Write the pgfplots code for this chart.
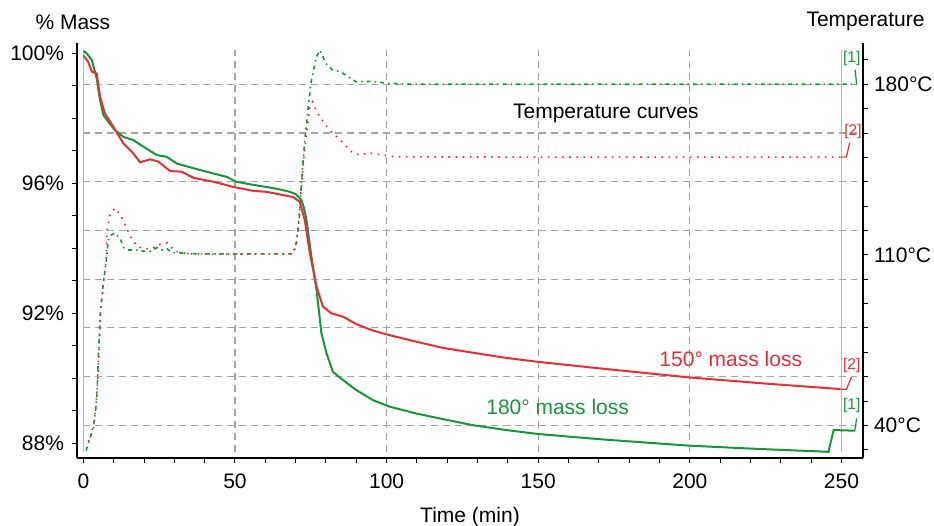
\documentclass[border=0pt]{standalone}
\usepackage{fontspec}
\setmainfont{Liberation Sans}
\usepackage{pgfplots}
\pgfplotsset{compat=1.18}
\definecolor{cgreen}{RGB}{22,150,60}
\definecolor{cred}{RGB}{232,45,55}
\definecolor{cgrid}{RGB}{165,165,165}
\definecolor{cvline}{RGB}{185,185,185}
\newcommand{\bigf}{\fontsize{21}{24}\selectfont}
\newcommand{\smallf}{\fontsize{15.5}{18}\selectfont}

\begin{document}
\begin{tikzpicture}[x=1pt,y=1pt]
\pgfplotsset{
  base/.style={
    at={(77pt,67pt)}, anchor=south west,
    scale only axis, width=786pt, height=415pt,
    xmin=-2.1, xmax=257.1,
    /pgf/number format/assume math mode=true,
    tick label style={font=\bigf},
    tick align=outside,
    major tick length=4.5pt, minor tick length=4.5pt,
    every tick/.style={black, line width=1pt},
    axis line style={black, line width=1.3pt},
  }
}
% ---------------- temperature axis (right) ----------------
\begin{axis}[base,
  ymin=26.63, ymax=196.94,
  axis x line=none, axis y line*=right,
  ytick={40,110,180}, yticklabels={40°C,110°C,180°C},
  minor ytick={30,50,60,70,80,90,100,120,130,140,150,160,170,190},
  yticklabel style={anchor=west, xshift=3pt},
]
\pgfplotsinvokeforeach{40,60,80,100,120,140,160,180}{
  \draw[cgrid, line width=1.1pt, dash pattern=on 7pt off 5pt] (axis cs:0,#1) -- (axis cs:255,#1);
}
\pgfplotsinvokeforeach{50,100,150,200}{
  \draw[cgrid, line width=1.1pt, dash pattern=on 7pt off 5pt] (axis cs:#1,29.2) -- (axis cs:#1,194.1);
}
\draw[cvline, line width=1.2pt] (axis cs:0,29.2) -- (axis cs:0,194.1);
\draw[cvline, line width=1.2pt] (axis cs:250,29.2) -- (axis cs:250,194.1);

% green temperature (180 run)
\addplot[cgreen, line width=1.6pt, dash pattern=on 4pt off 4pt on 1.6pt off 4pt] coordinates {
(0.9,29.7) (2.5,36) (3.4,40.4) (4.1,47) (4.5,53.5) (5.0,70) (5.6,86) (6.6,98.5)
(7.6,108) (8.2,116) (9,118) (10.5,119) (12.2,116.5) (13.2,113) (15,112) (17.1,112)
(20,111.5) (22.6,111.5) (24.2,113) (26,112) (27.6,112.5) (29,111) (31.9,110.8)
(35,110.5) (40,110.4) (50,110.4) (60,110.4) (68,110.4) (69,110.6) (70.3,115)
(71.2,125) (71.9,139.5) (73,157) (74,169) (75.2,181.6) (76.8,191) (78,194)
(80,188.5) (82,186) (85,185) (88,182.5) (90,181) (95.4,181.2) (101,180.3)
(110,180) (150,180) (200,180) (255,180)
};
% red temperature (150 run)
\addplot[cred, line width=1.6pt, dash pattern=on 1.6pt off 5.5pt] coordinates {
(1.65,33.4) (3.3,38.2) (4.1,47.2) (4.6,56.2) (5.2,71.2) (5.7,86.2) (6.6,98.5)
(7.5,108) (7.8,120) (8.9,127) (10.5,129.2) (12.2,126.4) (13.5,123) (15.5,117.5)
(17.8,113.4) (20,112.5) (22.6,112.5) (24.2,114) (27.6,115) (30,111.7) (34.2,110.5)
(40,110.3) (50,110.3) (60,110.3) (69,110.3) (70,113) (70.7,120) (71.4,129.6)
(72.4,146) (73.6,160) (74.7,170.6) (75.5,172.8) (76.5,170) (78,166.5) (81.3,161)
(85,156.8) (89,151.6) (91.7,151) (93.8,151.9) (97,151.3) (103.2,150.2) (150,150.1)
(200,150.1) (249.5,150.1)
};
% leaders for temperature ends
\addplot[cred, line width=1.2pt] coordinates {(249.5,150.1) (251.6,150.1) (252.7,156)};
\addplot[cgreen, line width=1.2pt] coordinates {(255,180) (254.5,186)};
\node[cgreen, font=\smallf] at (axis cs:253.4,190.5) {[1]};
\node[cred, font=\smallf] at (axis cs:253.8,160.5) {[2]};
\end{axis}

% ---------------- mass axis (left) ----------------
\begin{axis}[base,
  ymin=87.54, ymax=100.31,
  axis x line*=bottom, axis y line*=left,
  xtick={0,50,...,250}, minor xtick={10,20,30,40,60,70,80,90,110,120,130,140,160,170,180,190,210,220,230,240},
  ytick={88,92,96,100}, yticklabels={88\%,92\%,96\%,100\%},
  minor ytick={89,90,91,93,94,95,97,98,99},
  yticklabel style={xshift=-5pt},
  xticklabel style={yshift=-8pt},
]
% green mass (180 run)
\addplot[cgreen, line width=2pt] coordinates {
(0,100.07) (1.2,99.98) (2.8,99.78) (4.4,99.22) (5.5,98.55) (6.6,98.09) (8.2,97.89)
(10.4,97.63) (13.2,97.42) (16.5,97.32) (19.8,97.12) (24.2,96.86) (27.5,96.81)
(30.8,96.6) (38.5,96.4) (47.3,96.19) (50.5,96.04) (55,95.96) (60.4,95.88)
(65,95.8) (68.1,95.73) (70,95.66) (71.9,95.48) (72.7,95.25) (73.6,94.86)
(75.2,93.73) (76.9,92.71) (78.5,91.38) (80.2,90.76) (82.3,90.19) (85.6,89.94)
(90,89.63) (95.5,89.32) (101,89.12) (109.7,88.91) (117.4,88.76) (128.4,88.55)
(139.4,88.40) (149.8,88.28) (170,88.12) (199.7,87.92) (220,87.83) (245.7,87.73)
(247.4,88.40) (254.4,88.38)
};
% red mass (150 run)
\addplot[cred, line width=2pt] coordinates {
(0,99.93) (1.6,99.73) (2.8,99.43) (4.4,99.37) (5.5,98.66) (7.1,98.14) (9.9,97.73)
(13.2,97.22) (16.5,96.91) (18.7,96.64) (22,96.73) (24.7,96.66) (28.6,96.37)
(32.4,96.35) (36.3,96.16) (42.9,96.04) (49.5,95.88) (56,95.76) (60.4,95.73)
(69.2,95.57) (71.4,95.42) (73,94.86) (74.7,93.84) (76.9,92.81) (79,92.2)
(81.8,91.99) (85.6,91.89) (90,91.66) (95.5,91.46) (101,91.32) (109.7,91.12)
(118.5,90.93) (128.4,90.78) (139.4,90.62) (149.8,90.50) (170,90.3) (199.7,90.02)
(225,89.83) (249.7,89.66)
};
% leaders for mass ends
\addplot[cred, line width=1.2pt] coordinates {(249.7,89.66) (251.6,89.65) (253.3,90.03)};
\addplot[cgreen, line width=1.2pt] coordinates {(254.4,88.38) (255,88.76)};
\node[cred, font=\smallf] at (axis cs:253.4,90.4) {[2]};
\node[cgreen, font=\smallf] at (axis cs:253.4,89.17) {[1]};
% annotations
\node[font=\bigf] at (axis cs:172.3,98.15) {Temperature curves};
\node[cred, font=\bigf] at (axis cs:213.5,90.58) {150° mass loss};
\node[cgreen, font=\bigf] at (axis cs:156.4,89.11) {180° mass loss};
\end{axis}

\node[font=\bigf, anchor=base west] at (32,495) {\% Mass};
\node[font=\bigf, anchor=base west] at (803,498) {Temperature};
\node[font=\bigf, anchor=base] at (470,2.5) {Time (min)};

\pgfresetboundingbox
\path[use as bounding box] (0,0) rectangle (934,525);
\end{tikzpicture}
\end{document}
